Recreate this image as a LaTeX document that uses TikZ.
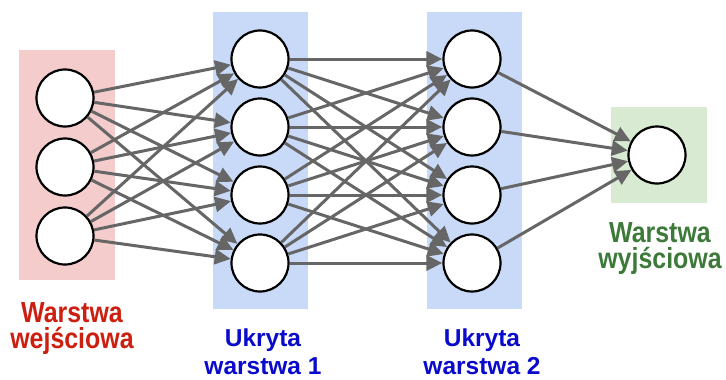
\documentclass[tikz,border=0pt]{standalone}
\usepackage{fontspec}
\setmainfont{Liberation Sans}
\newfontfamily\tallfont{Liberation Sans}[FakeStretch=0.86]
\usepackage{xcolor}
\usetikzlibrary{
    arrows.meta
}
\definecolor{inputfill}{HTML}{F4CCCC}
\definecolor{hiddenfill}{HTML}{C9DAF8}
\definecolor{outputfill}{HTML}{D9EAD3}
\definecolor{inputtext}{HTML}{CC1F10}
\definecolor{hiddentext}{HTML}{0A0ACC}
\definecolor{outputtext}{HTML}{3D7A3A}
\definecolor{linkgray}{HTML}{666666}
\tikzset{
    neuron/.style={circle, draw=black, line width=2.2pt, fill=white,
        minimum size=57pt, inner sep=0pt},
    link/.style={draw=linkgray, line width=3pt,
        -{Triangle[length=16pt,width=15pt]}},
    tallabel/.style={align=center, inner sep=0pt,
        font=\tallfont\bfseries\fontsize{29}{26}\selectfont},
    hiddenlabel/.style={align=center, inner sep=0pt, text=hiddentext,
        font=\bfseries\fontsize{24.5}{28}\selectfont}
}

\begin{document}
\begin{tikzpicture}[x=1pt, y=-1pt]
    \useasboundingbox (0,0) rectangle (726,380);
    % layer backgrounds
    \fill[inputfill] (19,50) rectangle (115,280);
    \fill[hiddenfill] (213,12) rectangle (308,309);
    \fill[hiddenfill] (427,12) rectangle (522,309);
    \fill[outputfill] (611,107) rectangle (707,203);
    % neurons
    \draw (65,98) node[neuron](in1){};
    \draw (65,167) node[neuron](in2){};
    \draw (65,236) node[neuron](in3){};
    \foreach \j/\y in {1/59, 2/127, 3/195, 4/263} {
        \draw (260,\y) node[neuron](hA\j){};
        \draw (472,\y) node[neuron](hB\j){};
    }
    \draw (657,155) node[neuron](out){};
    % connections
    \foreach \i in {1,2,3}
        \foreach \j in {1,...,4}
            \draw[link] (in\i) -- (hA\j);
    \foreach \i in {1,...,4}
        \foreach \j in {1,...,4}
            \draw[link] (hA\i) -- (hB\j);
    \foreach \i in {1,...,4}
        \draw[link] (hB\i) -- (out);
    % labels
    \node[tallabel, text=inputtext] (lblIn) at (72,329) {Warstwa\\wejściowa};
    \node[hiddenlabel] (lblHA) at (263,352) {Ukryta\\warstwa 1};
    \node[hiddenlabel] (lblHB) at (482,352) {Ukryta\\warstwa 2};
    \node[tallabel, text=outputtext] (lblOut) at (660,249) {Warstwa\\wyjściowa};
\end{tikzpicture}
\end{document}
